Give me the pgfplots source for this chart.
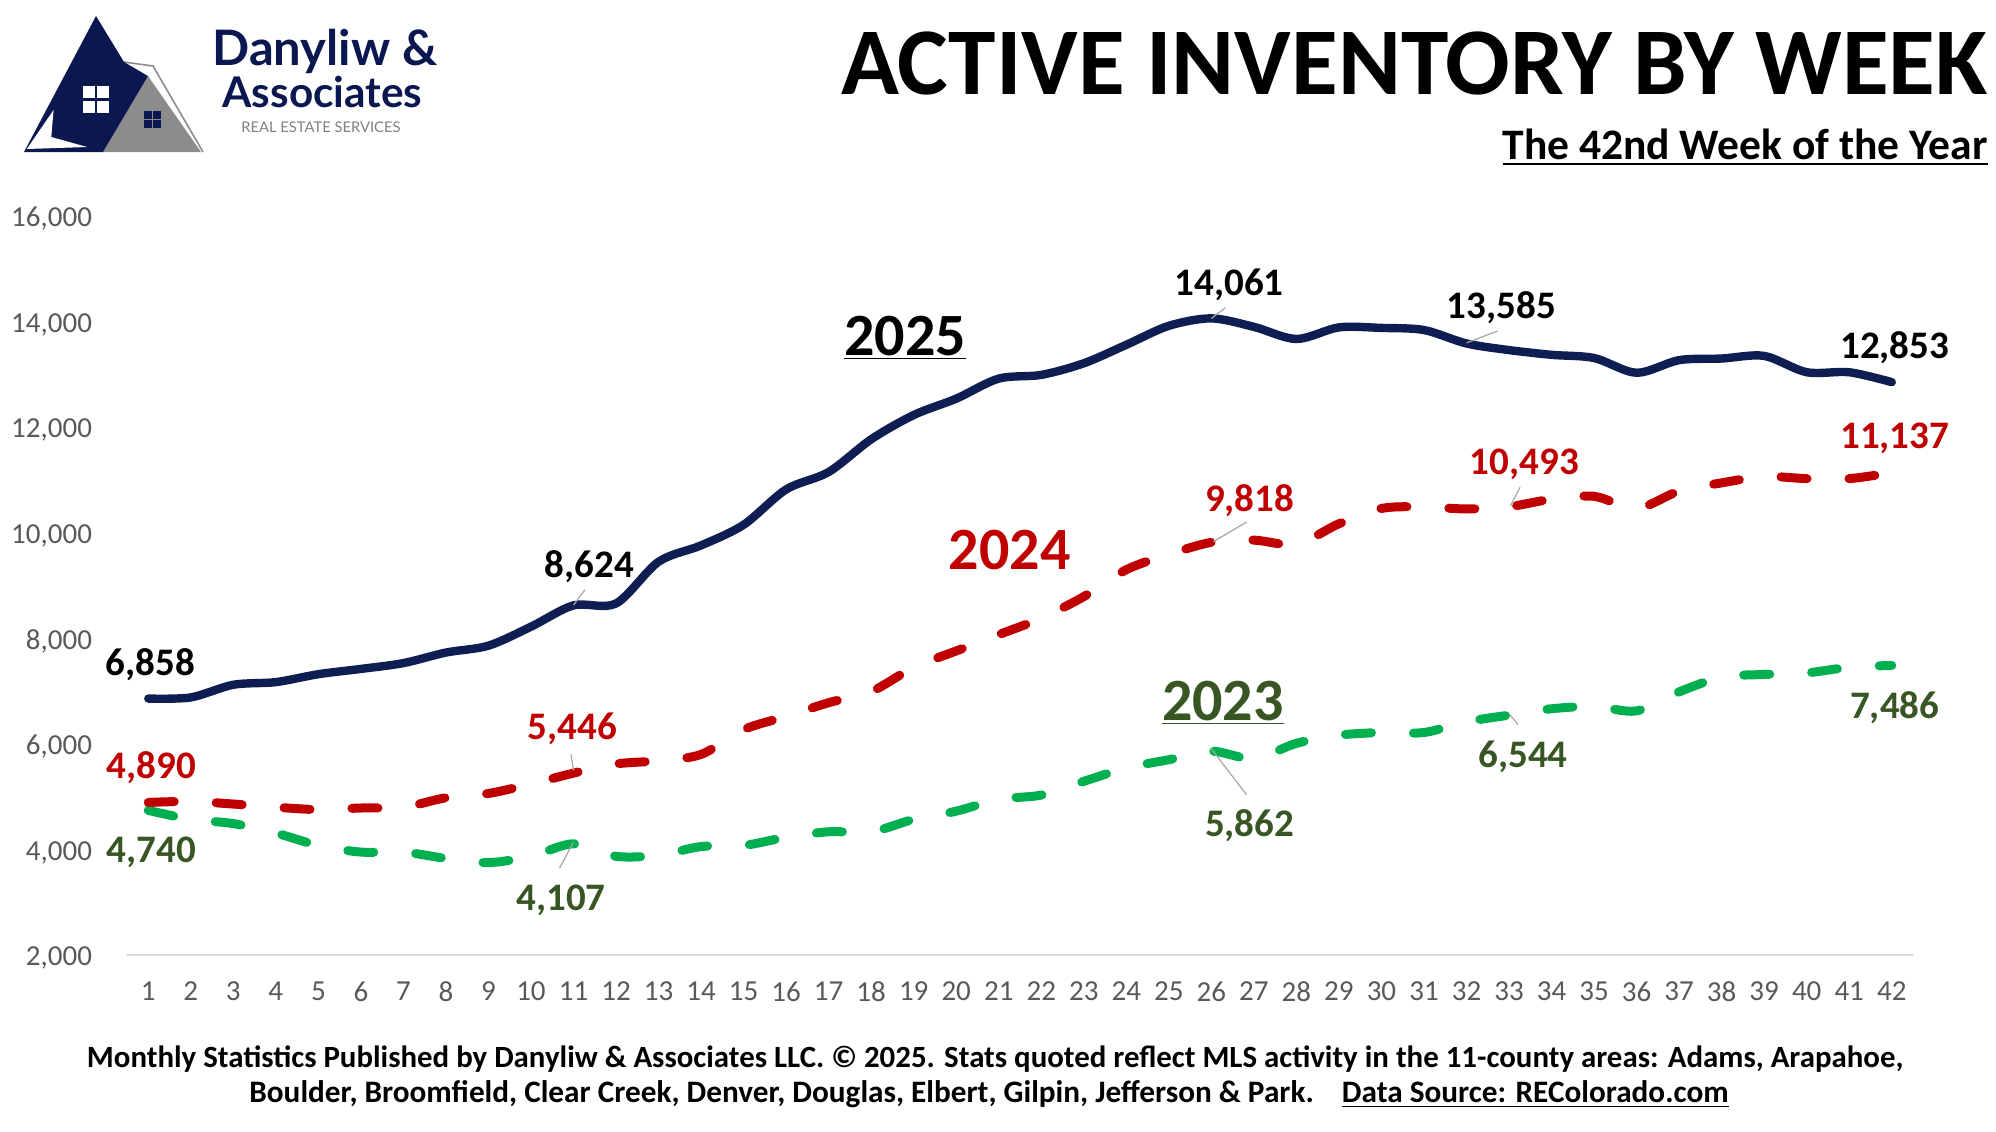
\documentclass[border=0pt]{standalone}
\usepackage{pgfplots}
\pgfplotsset{compat=1.18}
\usepackage{graphicx}
\usepackage{fontspec}
\setmainfont{Carlito}
\newfontfamily\logofont{Lato}
\definecolor{navy}{HTML}{0F1E52}
\definecolor{logonavy}{HTML}{0B1850}
\definecolor{dred}{HTML}{C00000}
\definecolor{lgreen}{HTML}{00B050}
\definecolor{dgreen}{HTML}{375623}
\definecolor{tickgray}{HTML}{595959}
\definecolor{axisgray}{HTML}{D9D9D9}
\definecolor{leadgray}{HTML}{A6A6A6}
\definecolor{logogray}{HTML}{8C8C8C}

\pgfplotstableread{
w v
1 6858
2 6880
3 7120
4 7170
5 7320
6 7420
7 7530
8 7730
9 7860
10 8220
11 8624
12 8660
13 9450
14 9760
15 10150
16 10820
17 11150
18 11770
19 12230
20 12540
21 12920
22 12990
23 13210
24 13560
25 13920
26 14061
27 13900
28 13670
29 13890
30 13880
31 13840
32 13585
33 13460
34 13370
35 13310
36 13030
37 13270
38 13300
39 13350
40 13040
41 13040
42 12853
}\yrtwentyfive

\pgfplotstableread{
w v
1 4890
2 4910
3 4860
4 4800
5 4755
6 4785
7 4800
8 4980
9 5060
10 5240
11 5446
12 5620
13 5680
14 5800
15 6270
16 6520
17 6780
18 6990
19 7450
20 7760
21 8070
22 8380
23 8790
24 9300
25 9590
26 9818
27 9860
28 9780
29 10170
30 10460
31 10490
32 10450
33 10493
34 10635
35 10690
36 10460
37 10790
38 10945
39 11065
40 11025
41 11025
42 11137
}\yrtwentyfour

\pgfplotstableread{
w v
1 4740
2 4570
3 4490
4 4310
5 4075
6 3950
7 3950
8 3830
9 3750
10 3870
11 4107
12 3870
13 3890
14 4055
15 4075
16 4230
17 4335
18 4335
19 4570
20 4725
21 4950
22 5030
23 5290
24 5545
25 5700
26 5862
27 5720
28 6010
29 6165
30 6215
31 6215
32 6420
33 6544
34 6665
35 6710
36 6625
37 6985
38 7265
39 7315
40 7345
41 7450
42 7486
}\yrtwentythree

\begin{document}
\begin{tikzpicture}[x=1pt,y=1pt,
  lbl/.style={font=\fontsize{19.5}{19.5}\selectfont\bfseries, inner sep=0, anchor=base},
  yr/.style={font=\fontsize{30}{30}\selectfont\bfseries, inner sep=0, anchor=base}]
\path[use as bounding box] (0,0) rectangle (998,-565.5);

% ---- logo ----
\fill[logogray] (51.5,-76) -- (100.5,-76) -- (74,-38) -- cycle;
\draw[logogray, line width=0.8pt, line join=miter] (62,-31) -- (76.5,-33) -- (101.5,-76);
\fill[logonavy] (48,-8) -- (62,-31) -- (74,-38) -- (51.5,-76) -- (12,-76) -- cycle;
\fill[white] (26.8,-55) -- (13.4,-74.5) -- (43.5,-73.5) -- (25.65,-68.5) -- cycle;
\fill[white] (41.3,-43) rectangle (54.5,-56.5);
\draw[logonavy, line width=1.2pt] (47.9,-43) -- (47.9,-56.5) (41.3,-49.75) -- (54.5,-49.75);
\fill[logonavy] (72,-55.5) rectangle (80.5,-64);
\draw[logogray, line width=0.8pt] (76.25,-55.5) -- (76.25,-64) (72,-59.75) -- (80.5,-59.75);
\node[anchor=base west, inner sep=0, text=logonavy] at (106,-32.5) {\resizebox{112.5pt}{!}{\logofont\bfseries Danyliw \&}};
\node[anchor=base west, inner sep=0, text=logonavy] at (111,-53.5) {\resizebox{100pt}{!}{\logofont\bfseries Associates}};
\node[anchor=base west, inner sep=0, text=gray] at (120.5,-66) {\resizebox{79.5pt}{!}{\logofont REAL ESTATE SERVICES}};

% ---- titles ----
\node[anchor=base east, inner sep=0] at (994,-47) {\resizebox{573pt}{!}{\bfseries ACTIVE INVENTORY BY WEEK}};
\node[anchor=base east, inner sep=0] at (994,-79.5) {\resizebox{242.5pt}{!}{\bfseries The 42nd Week of the Year}};
\draw[line width=1.1pt] (751.5,-82) -- (994,-82);

% ---- footer ----
\node[anchor=base, inner sep=0] at (497.5,-533.5) {\resizebox{908pt}{!}{\bfseries Monthly Statistics Published by Danyliw \& Associates LLC. © 2025. Stats quoted reflect MLS activity in the 11-county areas: Adams, Arapahoe,}};
\node[anchor=base, inner sep=0] at (494.5,-551) {\resizebox{739.5pt}{!}{\bfseries Boulder, Broomfield, Clear Creek, Denver, Douglas, Elbert, Gilpin, Jefferson \& Park.\hspace{0.9em}\underline{Data Source: REColorado.com}}};

\begin{axis}[
  at={(63.5pt,-477.5pt)}, anchor=south west,
  scale only axis, width=893pt, height=369.5pt,
  xmin=0.5, xmax=42.5, ymin=2000, ymax=16000,
  xtick={1,...,42}, ytick={2000,4000,...,16000},
  scaled y ticks=false,
  axis lines=left,
  axis line style={-},
  y axis line style={draw=none},
  x axis line style={draw=axisgray, line width=0.75pt},
  major tick length=0pt,
  tick style={draw=none},
  ticklabel style={font=\fontsize{14.5}{14.5}\selectfont, text=tickgray},
  xticklabel style={yshift=-10pt},
  yticklabel style={xshift=-14pt, yshift=-1.5pt},
  /pgf/number format/.cd, 1000 sep={,}, assume math mode=true,
  /pgfplots/.cd,
  clip=false,
]
\addplot[lgreen, line width=4.5pt, smooth, line cap=round, dash pattern=on 13pt off 21pt] table[x=w,y=v] {\yrtwentythree};
\addplot[dred, line width=4.5pt, smooth, line cap=round, dash pattern=on 13pt off 21pt] table[x=w,y=v] {\yrtwentyfour};
\addplot[navy, line width=4.2pt, smooth, line cap=round, line join=round] table[x=w,y=v] {\yrtwentyfive};

% leader lines
\addplot[leadgray, line width=0.6pt] coordinates {(11.0,8631) (11.27,8919)};
\addplot[leadgray, line width=0.6pt] coordinates {(26.0,14059) (26.33,14264)};
\addplot[leadgray, line width=0.6pt] coordinates {(32.0,13596) (32.73,13822)};
\addplot[leadgray, line width=0.6pt] coordinates {(11.0,5495) (10.94,5804)};
\addplot[leadgray, line width=0.6pt] coordinates {(26.05,9833) (26.83,10203)};
\addplot[leadgray, line width=0.6pt] coordinates {(33.03,10502) (33.26,10862)};
\addplot[leadgray, line width=0.6pt] coordinates {(11.0,4138) (10.67,3645)};
\addplot[leadgray, line width=0.6pt] coordinates {(26.0,5906) (26.83,5033)};
\addplot[leadgray, line width=0.6pt] coordinates {(33.03,6544) (33.21,6369)};

% data labels
\node[lbl, text=black] at (axis cs:1.05,7300) {6,858};
\node[lbl, text=black] at (axis cs:11.37,9150) {8,624};
\node[lbl, text=black] at (axis cs:26.42,14500) {14,061};
\node[lbl, text=black] at (axis cs:32.82,14055) {13,585};
\node[lbl, text=black] at (axis cs:42.07,13305) {12,853};
\node[lbl, text=dred] at (axis cs:1.07,5350) {4,890};
\node[lbl, text=dred] at (axis cs:10.97,6090) {5,446};
\node[lbl, text=dred] at (axis cs:26.9,10405) {9,818};
\node[lbl, text=dred] at (axis cs:33.36,11095) {10,493};
\node[lbl, text=dred] at (axis cs:42.07,11590) {11,137};
\node[lbl, text=dgreen] at (axis cs:1.07,3745) {4,740};
\node[lbl, text=dgreen] at (axis cs:10.71,2850) {4,107};
\node[lbl, text=dgreen] at (axis cs:26.9,4240) {5,862};
\node[lbl, text=dgreen] at (axis cs:33.33,5555) {6,544};
\node[lbl, text=dgreen] at (axis cs:42.07,6480) {7,486};

% year labels
\node[yr, text=black] at (axis cs:18.8,13360) {\underline{2025}};
\node[yr, text=dred] at (axis cs:21.26,9300) {2024};
\node[yr, text=dgreen] at (axis cs:26.27,6445) {\underline{2023}};
\end{axis}
\end{tikzpicture}
\end{document}
